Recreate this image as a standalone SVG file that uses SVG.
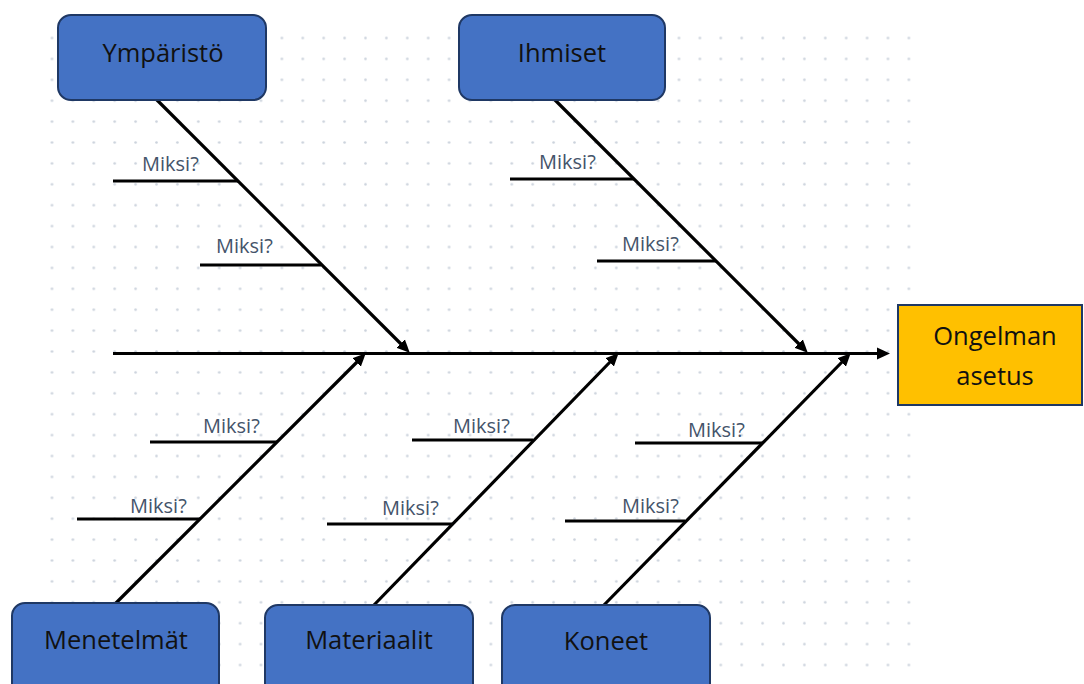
<svg xmlns="http://www.w3.org/2000/svg" width="1084" height="684" viewBox="0 0 1084 684">
  <style>
    .box { fill: #4472C4; stroke: #1F3864; stroke-width: 2; }
    .goal { fill: #FFC000; stroke: #1F3864; stroke-width: 2; }
    .lbl { font-family: "Open Sans", "Liberation Sans", sans-serif; font-size: 25.5px; fill: #111111; text-anchor: middle; }
    .why { font-family: "Open Sans", "Liberation Sans", sans-serif; font-size: 20px; fill: #44546A; }
    .bone { stroke: #000000; stroke-width: 3.2; fill: none; }
    .arr { marker-end: url(#ah); }
  </style>
  <defs>
    <pattern id="dots" patternUnits="userSpaceOnUse" x="41.55" y="27.55" width="20.9" height="20.9">
      <circle cx="10.45" cy="10.45" r="1.3" fill="#CBD2DC"/>
    </pattern>
    <marker id="ah" markerUnits="userSpaceOnUse" markerWidth="14" markerHeight="13" refX="2" refY="6.5" orient="auto">
      <path d="M0,0.5 L13,6.5 L0,12.5 z" fill="#000000"/>
    </marker>
  </defs>
  <rect x="0" y="0" width="1084" height="684" fill="#FFFFFF"/>
  <rect x="41.55" y="27.55" width="877.8" height="647.9" fill="url(#dots)"/>

  <g id="connectors">
    <line class="bone arr" x1="113" y1="353.5" x2="879" y2="353.5"/>
    <line class="bone arr" x1="157" y1="100" x2="402" y2="345"/>
    <line class="bone arr" x1="555" y1="100" x2="800" y2="345"/>
    <line class="bone arr" x1="116" y1="603" x2="358" y2="361"/>
    <line class="bone arr" x1="374" y1="605" x2="611" y2="361"/>
    <line class="bone arr" x1="604" y1="605" x2="843" y2="361"/>
    <line class="bone" x1="113" y1="181" x2="238" y2="181"/>
    <line class="bone" x1="200" y1="265" x2="321" y2="265"/>
    <line class="bone" x1="510" y1="179" x2="634" y2="179"/>
    <line class="bone" x1="597" y1="261" x2="716" y2="261"/>
    <line class="bone" x1="150" y1="442" x2="277" y2="442"/>
    <line class="bone" x1="77" y1="519" x2="200" y2="519"/>
    <line class="bone" x1="412" y1="440" x2="533" y2="440"/>
    <line class="bone" x1="327" y1="524" x2="452" y2="524"/>
    <line class="bone" x1="635" y1="443" x2="762" y2="443"/>
    <line class="bone" x1="565" y1="521" x2="685" y2="521"/>
  </g>

  <g id="labels-why">
    <text class="why" x="142" y="171">Miksi?</text>
    <text class="why" x="216" y="253">Miksi?</text>
    <text class="why" x="539" y="169">Miksi?</text>
    <text class="why" x="622" y="251">Miksi?</text>
    <text class="why" x="203" y="433">Miksi?</text>
    <text class="why" x="130" y="513">Miksi?</text>
    <text class="why" x="453" y="433">Miksi?</text>
    <text class="why" x="382" y="515">Miksi?</text>
    <text class="why" x="688" y="437">Miksi?</text>
    <text class="why" x="622" y="513">Miksi?</text>
  </g>

  <g id="node-ymparisto">
    <rect class="box" x="58" y="15" width="208" height="85" rx="13"/>
    <text class="lbl" x="163" y="62">Ympäristö</text>
  </g>
  <g id="node-ihmiset">
    <rect class="box" x="459" y="15" width="206" height="85" rx="13"/>
    <text class="lbl" x="562" y="62">Ihmiset</text>
  </g>
  <g id="node-ongelma">
    <rect class="goal" x="898" y="305" width="184" height="100"/>
    <text class="lbl" x="995" y="345" font-size="26">Ongelman</text>
    <text class="lbl" x="995" y="385" font-size="26">asetus</text>
  </g>
  <g id="node-menetelmat">
    <rect class="box" x="12" y="603" width="207" height="100" rx="13"/>
    <text class="lbl" x="116" y="649">Menetelmät</text>
  </g>
  <g id="node-materiaalit">
    <rect class="box" x="265" y="605" width="208" height="100" rx="13"/>
    <text class="lbl" x="369" y="649">Materiaalit</text>
  </g>
  <g id="node-koneet">
    <rect class="box" x="502" y="605" width="208" height="100" rx="13"/>
    <text class="lbl" x="606" y="650">Koneet</text>
  </g>
</svg>
